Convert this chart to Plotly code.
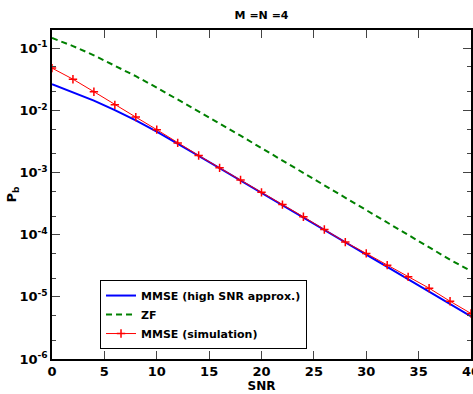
import plotly.graph_objects as go

snr = [0, 2, 4, 6, 8, 10, 12, 14, 16, 18, 20, 22, 24, 26, 28, 30, 32, 34, 36, 38, 40]

mmse_approx = [0.0264, 0.0196, 0.0144, 0.0101, 0.0069, 0.00455, 0.00287, 0.00185,
               0.00118, 0.00075, 0.000475, 0.000300, 0.000190, 0.000120, 7.6e-5,
               4.8e-5, 3.03e-5, 1.92e-5, 1.21e-5, 7.65e-6, 4.85e-6]

zf = [0.1464, 0.1085, 0.0771, 0.0530, 0.0355, 0.0233, 0.01505, 0.00967, 0.00616,
      0.00392, 0.00248, 0.001567, 0.000991, 0.000627, 0.000396, 0.00025, 0.0001577,
      9.95e-5, 6.28e-5, 3.96e-5, 2.6e-5]

mmse_sim = [0.048, 0.0318, 0.020, 0.0123, 0.0078, 0.0049, 0.0030, 0.00188, 0.00119,
            0.00076, 0.00048, 0.000305, 0.000194, 0.000121, 7.6e-5, 5.0e-5, 3.24e-5,
            2.1e-5, 1.38e-5, 8.5e-6, 5.4e-6]

x_ticks = [0, 5, 10, 15, 20, 25, 30, 35, 40]
y_tick_vals = [1e-6, 1e-5, 1e-4, 1e-3, 1e-2, 1e-1]
y_tick_text = ["10<sup>-6</sup>", "10<sup>-5</sup>", "10<sup>-4</sup>",
               "10<sup>-3</sup>", "10<sup>-2</sup>", "10<sup>-1</sup>"]

FONT = "DejaVu Sans"

fig = go.Figure()
fig.add_trace(go.Scatter(x=snr, y=mmse_approx, mode="lines",
                         name="MMSE (high SNR approx.)",
                         line=dict(color="#0000ff", width=2)))
fig.add_trace(go.Scatter(x=snr, y=zf, mode="lines", name="ZF",
                         line=dict(color="#008000", width=2, dash="6px,4px")))
fig.add_trace(go.Scatter(x=snr, y=mmse_sim, mode="lines+markers",
                         name="MMSE (simulation)",
                         line=dict(color="#ff0000", width=1),
                         marker=dict(symbol="cross-thin", size=6,
                                     line=dict(color="#ff0000", width=1.5))))

fig.update_layout(
    width=473, height=394,
    margin=dict(l=52, r=2, t=30, b=35),
    paper_bgcolor="white", plot_bgcolor="white",
    font=dict(family=FONT, size=12, color="black", weight="bold"),
    title=dict(text="M =N =4", x=0.553, xanchor="center", y=0.962, yanchor="middle",
               font=dict(family=FONT, size=11, weight="bold")),
    showlegend=True,
    legend=dict(x=0.1146, y=0.24, xanchor="left", yanchor="top",
                bordercolor="black", borderwidth=1, bgcolor="white",
                font=dict(family=FONT, size=11, weight="bold"),
                tracegroupgap=0, itemwidth=30),
)

fig.update_xaxes(
    range=[0, 40], tickvals=x_ticks, ticks="inside", ticklen=8, tickwidth=1,
    showline=True, linecolor="black", linewidth=1.5, mirror="allticks",
    showgrid=False, zeroline=False, ticklabeloverflow="allow", automargin=False,
    title=dict(text="SNR", font=dict(family=FONT, size=12, weight="bold"), standoff=2),
    tickfont=dict(family=FONT, size=13, weight="bold"),
)
fig.update_yaxes(
    type="log", range=[-6, -0.706], tickvals=y_tick_vals, ticktext=y_tick_text,
    ticks="inside", ticklen=8, tickwidth=1, automargin=False,
    minor=dict(ticks="inside", ticklen=4, tickwidth=1, showgrid=False),
    showline=True, linecolor="black", linewidth=1.5, mirror="allticks",
    showgrid=False, zeroline=False,
    title=dict(text="P<sub>b</sub>", font=dict(family=FONT, size=13, weight="bold"), standoff=0),
    tickfont=dict(family=FONT, size=13, weight="bold"),
)

fig.write_html("out.html")
